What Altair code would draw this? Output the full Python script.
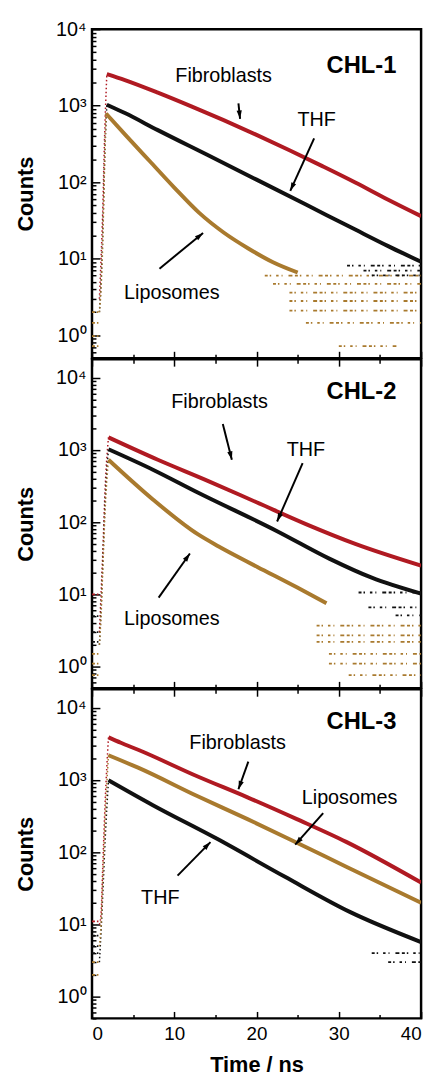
import math
import altair as alt
import pandas as pd

FONT = "Liberation Sans"
RED = "#b01a22"
BROWN = "#a97a2e"
BLACK = "#111111"

series_names = ["Fibroblasts", "THF", "Liposomes"]
series_colors = [RED, BLACK, BROWN]

# ---------------- CHL-1 ----------------
chl1_fib_time = [0.9, 1.1, 1.3, 1.5, 1.8, 4.0, 8.0, 12.0, 16.0, 20.0, 24.0, 28.0, 32.0, 36.0, 40.0]
chl1_fib_counts = [3, 10, 40, 300, 2590, 2160, 1480, 986, 646, 415, 262, 162, 99, 59, 36]
chl1_thf_time = [0.9, 1.1, 1.3, 1.5, 1.8, 4.0, 8.0, 14.0, 20.0, 26.0, 32.0, 36.0, 40.0]
chl1_thf_counts = [2, 5, 20, 150, 1030, 800, 479, 228, 108, 51, 24, 14.6, 9.1]
chl1_lip_time = [0.9, 1.1, 1.3, 1.5, 1.7, 4.0, 7.0, 10.0, 13.0, 16.0, 19.0, 22.0, 25.0]
chl1_lip_counts = [2, 4, 15, 120, 790, 422, 189, 85, 40, 22, 13.6, 9.0, 6.6]
# discrete low-count rows (series, counts level, start time, end time)
chl1_rows_series = ["Liposomes"] * 11 + ["THF"] * 3
chl1_rows_counts = [6.0, 4.7, 3.6, 2.8, 2.1, 1.45, 0.72, 2.0, 1.45, 0.97, 0.72, 8.1, 7.0, 6.05]
chl1_rows_start = [21.0, 22.0, 24.0, 24.0, 24.0, 26.0, 30.0, 0.0, 0.0, 0.0, 0.0, 31.0, 33.0, 34.0]
chl1_rows_end = [40.0, 40.0, 40.0, 40.0, 40.0, 40.0, 37.0, 0.8, 0.8, 0.8, 0.8, 40.0, 40.0, 40.0]

# ---------------- CHL-2 ----------------
chl2_fib_time = [0.9, 1.1, 1.3, 1.6, 2.0, 8.0, 14.0, 20.0, 26.0, 32.0, 40.0]
chl2_fib_counts = [3, 10, 35, 300, 1490, 730, 376, 188, 94, 50, 25]
chl2_thf_time = [0.9, 1.1, 1.3, 1.6, 2.0, 7.4, 12.85, 22.5, 28.9, 34.0, 40.0]
chl2_thf_counts = [2, 6, 25, 200, 1020, 532, 257, 75, 31, 17, 10.2]
chl2_lip_time = [0.9, 1.1, 1.3, 1.6, 2.0, 7.4, 12.85, 15.4, 20.1, 24.9, 28.5]
chl2_lip_counts = [2, 5, 20, 150, 730, 206, 68, 46, 24, 12.5, 7.5]
chl2_rows_series = ["Liposomes"] * 9 + ["THF"] * 6 + ["Fibroblasts"]
chl2_rows_counts = [3.7, 2.7, 2.2, 1.5, 1.1, 0.76, 1.5, 1.1, 0.76, 10.6, 6.6, 5.1, 5.0, 3.0, 2.2, 10.0]
chl2_rows_start = [27.3, 27.3, 27.3, 28.8, 28.8, 31.2, 0.0, 0.0, 0.0, 32.4, 33.6, 36.9, 0.0, 0.0, 0.0, 0.0]
chl2_rows_end = [40.0, 40.0, 40.0, 40.0, 40.0, 40.0, 0.8, 0.8, 0.8, 40.0, 40.0, 40.0, 0.8, 0.8, 0.8, 0.9]

# ---------------- CHL-3 ----------------
chl3_fib_time = [0.9, 1.1, 1.3, 1.6, 2.0, 3.5, 5.6, 12.85, 18.9, 24.9, 30.9, 40.0]
chl3_fib_counts = [10, 14, 60, 500, 3890, 3270, 2620, 1117, 575, 287, 139, 38]
chl3_lip_time = [0.9, 1.1, 1.3, 1.6, 2.0, 5.6, 12.85, 18.9, 24.9, 30.9, 40.0]
chl3_lip_counts = [5, 10, 40, 300, 2200, 1480, 594, 287, 135, 63, 20]
chl3_thf_time = [0.9, 1.1, 1.3, 1.6, 2.0, 7.4, 15.2, 23.4, 31.4, 40.0]
chl3_thf_counts = [3, 8, 25, 150, 990, 447, 153, 46, 14.8, 5.7]
chl3_rows_series = ["Fibroblasts", "THF", "THF", "THF", "Liposomes", "Liposomes", "THF", "THF"]
chl3_rows_counts = [11.0, 7.0, 5.0, 4.0, 3.0, 2.0, 4.0, 3.0]
chl3_rows_start = [0.0, 0.0, 0.0, 0.0, 0.0, 0.0, 34.0, 36.0]
chl3_rows_end = [0.9, 0.8, 0.8, 0.8, 0.8, 0.8, 40.0, 40.0]

# annotations: label position, arrow tail and arrow head (time, counts)
chl1_label_time = [16.0, 27.3, 9.7]
chl1_label_counts = [2430, 640, 3.6]
chl1_arrow_tail_time = [17.8, 27.0, 8.2]
chl1_arrow_tail_counts = [1070, 373, 7.4]
chl1_arrow_head_time = [18.0, 24.1, 13.5]
chl1_arrow_head_counts = [674, 77, 21.7]

chl2_label_time = [15.5, 26.0, 9.7]
chl2_label_counts = [4640, 1000, 4.6]
chl2_arrow_tail_time = [15.9, 25.6, 8.1]
chl2_arrow_tail_counts = [2285, 655, 9.0]
chl2_arrow_head_time = [17.0, 22.5, 11.9]
chl2_arrow_head_counts = [728, 102, 36.8]

chl3_label_time = [17.7, 8.3, 31.3]
chl3_label_counts = [3270, 23.3, 559]
chl3_arrow_tail_time = [19.0, 10.4, 28.1]
chl3_arrow_tail_counts = [1790, 47.4, 347]
chl3_arrow_head_time = [17.8, 14.4, 24.7]
chl3_arrow_head_counts = [744, 138, 127]

panel_titles = ["CHL-1", "CHL-2", "CHL-3"]
panel_title_time = [37.0, 37.0, 37.0]
panel_title_counts = [3270, 6370, 6370]

x_ticks = [0, 5, 10, 15, 20, 25, 30, 35, 40]

W = 333
H = 333
X_DOMAIN = [0, 40]

DEC = "abs(log(datum.value)/LN10 - round(log(datum.value)/LN10)) < 0.001"
SUP = "['\u2070','\u00b9','\u00b2','\u00b3','\u2074']"
XTICK = {"expr": "datum.value % 10 === 0 ? -7 : -4"}


def y_ticks(lo, hi):
    vals = []
    for d in range(-1, 5):
        for m in range(1, 10):
            v = m * 10 ** d
            if lo <= v <= hi:
                vals.append(v)
    return vals


def panel(idx, curves, rows_in, names, ltime, lcounts, ttime, tcounts, htime, hcounts,
          ydom, bottom, top_ticks):
    rows = []
    for name, (times, vals) in zip(series_names, curves):
        peak = vals.index(max(vals))
        for i, (t, c) in enumerate(zip(times, vals)):
            if i <= peak:
                rows.append({"series": name, "part": "rise", "time": t, "counts": c})
            if i >= peak:
                rows.append({"series": name, "part": "decay", "time": t, "counts": c})
    df = pd.DataFrame(rows)
    rdf = pd.DataFrame({"series": rows_in[0], "counts": rows_in[1],
                        "t0": rows_in[2], "t1": rows_in[3]})

    ppn = W / (X_DOMAIN[1] - X_DOMAIN[0])
    ppd = H / (math.log10(ydom[1]) - math.log10(ydom[0]))
    ann = []
    for n, lt, lc, tt, tc, ht, hc in zip(names, ltime, lcounts, ttime, tcounts, htime, hcounts):
        dx = (ht - tt) * ppn
        dy = -(math.log10(hc) - math.log10(tc)) * ppd
        ang = math.degrees(math.atan2(dx, -dy)) % 360
        ann.append({"name": n, "lt": lt, "lc": lc, "tt": tt, "tc": tc,
                    "ht": ht, "hc": hc, "ang": ang})
    adf = pd.DataFrame(ann)
    tdf = pd.DataFrame([{"name": panel_titles[idx], "t": panel_title_time[idx],
                         "c": panel_title_counts[idx]}])

    yscale = alt.Scale(type="log", domain=ydom, nice=False)
    xscale = alt.Scale(domain=X_DOMAIN, nice=False, zero=False)
    cscale = alt.Scale(domain=series_names, range=series_colors)

    xaxis = alt.Axis(
        values=x_ticks,
        labelExpr="datum.value % 10 === 0 ? datum.label : ''",
        labels=bottom,
        title="Time / ns" if bottom else None,
        tickSize=XTICK,
        tickColor="black", tickWidth=1.5, domain=False, grid=False,
        labelFont=FONT, labelFontSize=19, labelColor="black", labelPadding=13,
        titleFont=FONT, titleFontSize=22, titleFontWeight="bold", titleColor="black",
        titlePadding=12,
    )
    yaxis = alt.Axis(
        values=y_ticks(ydom[0], ydom[1]),
        labelExpr=f"{DEC} ? '10' + {SUP}[round(log(datum.value)/LN10)] : ''",
        tickSize={"expr": f"{DEC} ? -8 : -4"},
        tickColor="black", tickWidth=1.5, domain=False, grid=False,
        labelFont=FONT, labelFontSize=20, labelColor="black", labelPadding=14,
        title="Counts", titleFont=FONT, titleFontSize=22, titleFontWeight="bold",
        titleColor="black", titlePadding=18,
    )

    decay = alt.Chart(df).transform_filter("datum.part === 'decay'").mark_line(
        strokeWidth=4, clip=True, strokeJoin="round", interpolate="monotone"
    ).encode(
        x=alt.X("time:Q", scale=xscale, axis=xaxis),
        y=alt.Y("counts:Q", scale=yscale, axis=yaxis),
        color=alt.Color("series:N", scale=cscale, legend=None),
        detail="series:N",
    )
    rise = alt.Chart(df).transform_filter("datum.part === 'rise'").mark_line(
        strokeWidth=1.5, strokeDash=[1.5, 2.5], clip=True, interpolate="monotone"
    ).encode(
        x=alt.X("time:Q", scale=xscale, axis=None),
        y=alt.Y("counts:Q", scale=yscale),
        color=alt.Color("series:N", scale=cscale, legend=None),
        detail="series:N",
    )
    levels = alt.Chart(rdf).mark_rule(
        strokeWidth=1.8, strokeDash=[3, 2, 1.5, 5, 2.5, 3, 1, 6, 4, 2.5], clip=True
    ).encode(
        x=alt.X("t0:Q", scale=xscale, axis=None), x2="t1:Q",
        y=alt.Y("counts:Q", scale=yscale),
        color=alt.Color("series:N", scale=cscale, legend=None),
    )

    labels = alt.Chart(adf).mark_text(font=FONT, fontSize=20, color="black", align="center",
                                      baseline="middle").encode(
        x=alt.X("lt:Q", scale=xscale, axis=None),
        y=alt.Y("lc:Q", scale=yscale),
        text="name:N",
    )
    arrows = alt.Chart(adf).mark_rule(color="black", strokeWidth=2).encode(
        x=alt.X("tt:Q", scale=xscale, axis=None), y=alt.Y("tc:Q", scale=yscale),
        x2="ht:Q", y2="hc:Q",
    )
    heads = alt.Chart(adf).mark_point(
        shape="M0,0L-0.75,2.4L0.75,2.4Z", filled=True, color="black", opacity=1, size=50
    ).encode(
        x=alt.X("ht:Q", scale=xscale, axis=None), y=alt.Y("hc:Q", scale=yscale),
        angle=alt.Angle("ang:Q", scale=None),
    )
    top_axis = alt.Axis(
        orient="top", values=x_ticks, labels=False, title=None, tickSize=XTICK,
        tickColor="black", tickWidth=1.5, domain=False, grid=False,
        minExtent=0, maxExtent=0,
    ) if top_ticks else None
    title = alt.Chart(tdf).mark_text(font=FONT, fontSize=24, fontWeight="bold", color="black",
                                     align="right", baseline="middle").encode(
        x=alt.X("t:Q", scale=xscale, axis=top_axis), y=alt.Y("c:Q", scale=yscale),
        text="name:N",
    )
    return alt.layer(levels, rise, decay, labels, arrows, heads, title).resolve_scale(
        x="independent"
    ).properties(width=W, height=H)


p1 = panel(0, [(chl1_fib_time, chl1_fib_counts), (chl1_thf_time, chl1_thf_counts),
               (chl1_lip_time, chl1_lip_counts)],
           (chl1_rows_series, chl1_rows_counts, chl1_rows_start, chl1_rows_end), series_names,
           chl1_label_time, chl1_label_counts, chl1_arrow_tail_time, chl1_arrow_tail_counts,
           chl1_arrow_head_time, chl1_arrow_head_counts, [0.5, 10000], False, False)
p2 = panel(1, [(chl2_fib_time, chl2_fib_counts), (chl2_thf_time, chl2_thf_counts),
               (chl2_lip_time, chl2_lip_counts)],
           (chl2_rows_series, chl2_rows_counts, chl2_rows_start, chl2_rows_end), series_names,
           chl2_label_time, chl2_label_counts, chl2_arrow_tail_time, chl2_arrow_tail_counts,
           chl2_arrow_head_time, chl2_arrow_head_counts, [0.5, 18000], False, True)
p3 = panel(2, [(chl3_fib_time, chl3_fib_counts), (chl3_thf_time, chl3_thf_counts),
               (chl3_lip_time, chl3_lip_counts)],
           (chl3_rows_series, chl3_rows_counts, chl3_rows_start, chl3_rows_end),
           ["Fibroblasts", "THF", "Liposomes"],
           chl3_label_time, chl3_label_counts, chl3_arrow_tail_time, chl3_arrow_tail_counts,
           chl3_arrow_head_time, chl3_arrow_head_counts, [0.5, 18000], True, True)

chart = alt.vconcat(p1, p2, p3, spacing=1, bounds="flush").properties(
    padding={"left": 5, "right": 5, "top": 3, "bottom": 0}
).configure_view(
    stroke="black", strokeWidth=2.5
)

chart.save("out.html", embed_options={"renderer": "svg", "actions": False})
